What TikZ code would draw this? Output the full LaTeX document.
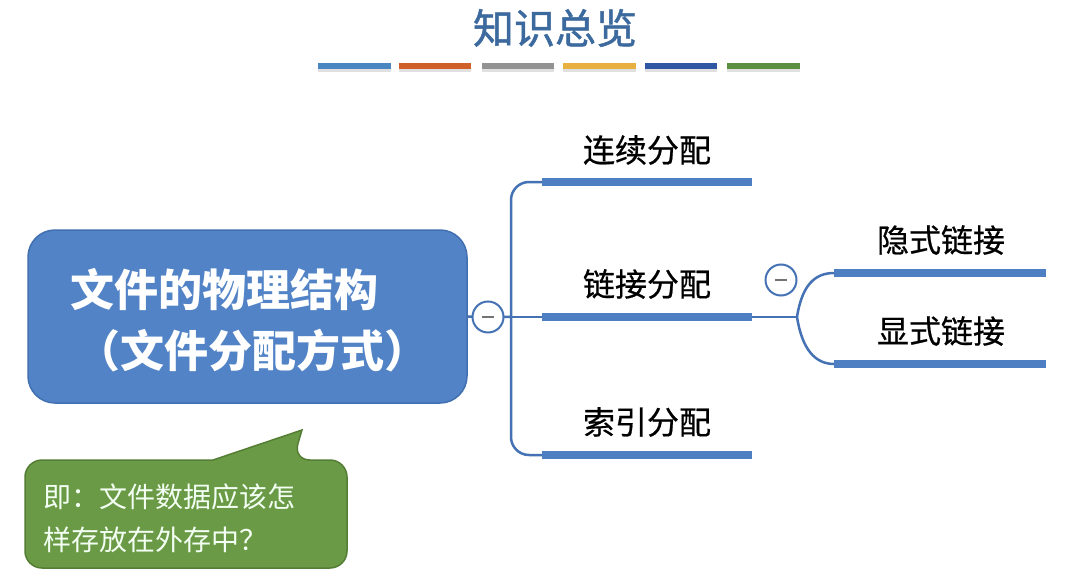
\documentclass[tikz,border=0pt]{standalone}
\usepackage{fontspec}
\usetikzlibrary{calc}
\newfontfamily\cjk{Noto Sans CJK SC}
\newfontfamily\cjkm[FakeBold=0.6]{Noto Sans CJK SC}
\newfontfamily\cjkt[FakeBold=1.2]{Noto Sans CJK SC}
\definecolor{titleblue}{HTML}{3C6A9E}
\definecolor{mainfill}{HTML}{5183C6}
\definecolor{mainedge}{HTML}{4170B0}
\definecolor{linkblue}{HTML}{4472B4}
\definecolor{barblue}{HTML}{4E7FC2}
\definecolor{notefill}{HTML}{6B9A46}
\definecolor{noteedge}{HTML}{547E34}
\definecolor{cA}{HTML}{4A86C0}
\definecolor{cB}{HTML}{D0602A}
\definecolor{cC}{HTML}{929292}
\definecolor{cD}{HTML}{E8B040}
\definecolor{cE}{HTML}{2E56A2}
\definecolor{cF}{HTML}{5A9040}
\tikzset{
  lbl/.style={font=\cjkm\fontsize{32}{36}\selectfont, text=black, inner sep=0pt},
  bar/.style={line width=8pt, barblue},
  link/.style={line width=2.5pt, linkblue},
  cbar/.style={line width=6pt},
  tog/.style={circle, draw=linkblue, line width=2pt, fill=white, minimum size=31pt, inner sep=0pt},
}
\begin{document}
\begin{tikzpicture}[x=1pt,y=-1pt]
\useasboundingbox[fill=white] (0,0) rectangle (1065,586);
% title
\node[font=\cjkt\fontsize{41}{44}\selectfont, text=titleblue, inner sep=0pt] (title) at (555,28) {知识总览};
% colour bars
\foreach \xa/\xb/\c in {318/391/cA,399/471/cB,482/554/cC,563/636/cD,645/717/cE,727/800/cF}{
  \draw[cbar, black!12] (\xa,69) -- (\xb,69);
  \draw[cbar, \c] (\xa,66) -- (\xb,66);
}
% main box
\node[draw=mainedge, fill=mainfill, line width=1.5pt, rounded corners=27pt, minimum width=439pt, minimum height=173pt, inner sep=0pt] (main) at (247.5,316.5) {};
\node[font=\cjk\bfseries\fontsize{44}{48}\selectfont, text=white, inner sep=0pt, anchor=west] (m1) at (70,290) {文件的物理结构};
\node[font=\cjk\bfseries\fontsize{44}{48}\selectfont, text=white, inner sep=0pt, anchor=west] (m2) at (76,351) {（文件分配方式）};
% connectors
\coordinate (j) at (511,317);
\coordinate (b1s) at (542,182); \coordinate (b1e) at (752,182);
\coordinate (b2s) at (542,317); \coordinate (b2e) at (752,317);
\coordinate (b3s) at (542,455); \coordinate (b3e) at (752,455);
\draw[link] (main.east) -- (j);
\draw[link, rounded corners=18pt] (b1s) -- (511,182) -- (511,455) -- (b3s);
\draw[link] (j) -- (b2s);
\draw[bar] (b1s) -- (b1e);
\draw[bar] (b2s) -- (b2e);
\draw[bar] (b3s) -- (b3e);
\node[tog] (t1) at (488,317) {};
\draw[line width=2pt, black!55] ($(t1)+(-6,0)$) -- ($(t1)+(6,0)$);
\node[lbl] (l1) at (647,150) {连续分配};
\node[lbl] (l2) at (647,284) {链接分配};
\node[lbl] (l3) at (647,422) {索引分配};
% sub branch
\coordinate (k) at (797,317);
\coordinate (c1s) at (834,273); \coordinate (c1e) at (1046,273);
\coordinate (c2s) at (834,364); \coordinate (c2e) at (1046,364);
\draw[link] (b2e) -- (k);
\draw[link] (k) .. controls (802,285) and (815,273) .. (c1s);
\draw[link] (k) .. controls (802,349) and (815,364) .. (c2s);
\draw[bar] (c1s) -- (c1e);
\draw[bar] (c2s) -- (c2e);
\node[tog] (t2) at (781,280) {};
\draw[line width=2pt, black!55] ($(t2)+(-6,0)$) -- ($(t2)+(6,0)$);
\node[lbl] (s1) at (941,240) {隐式链接};
\node[lbl] (s2) at (941,331) {显式链接};
% callout
\draw[draw=noteedge, fill=notefill, line width=1.5pt, rounded corners=17pt]
  (213,460) -- (25,460) -- (25,568) -- (347,568) -- (347,460) -- (293,460) [sharp corners] -- (302,430) -- (213,460) -- cycle;
\node[font=\cjk\fontsize{28}{43}\selectfont, text=white!95!green, inner sep=0pt, anchor=north west, align=left] (note) at (43,484) {即：文件数据应该怎\\样存放在外存中？};
\end{tikzpicture}
\end{document}
